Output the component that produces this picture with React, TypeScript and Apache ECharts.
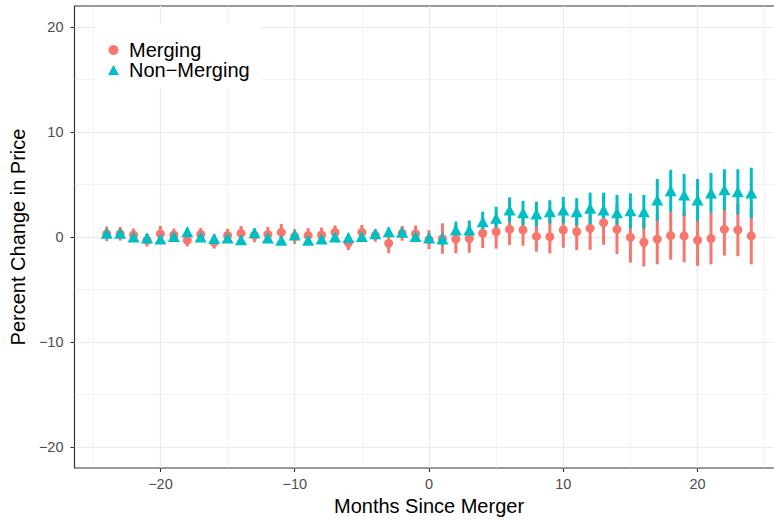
import React, { useEffect, useRef } from "react";
import * as echarts from "echarts";

const months = [-24,-23,-22,-21,-20,-19,-18,-17,-16,-15,-14,-13,-12,-11,-10,-9,-8,-7,-6,-5,-4,-3,-2,-1,0,1,2,3,4,5,6,7,8,9,10,11,12,13,14,15,16,17,18,19,20,21,22,23,24];

const mergingMean = [0.3,0.3,0.2,-0.3,0.3,0.2,-0.3,0.25,-0.5,0.15,0.35,0.15,0.25,0.45,0.05,0.15,0.2,0.45,-0.55,0.45,0.15,-0.6,0.35,0.3,-0.25,-0.15,-0.2,-0.15,0.35,0.5,0.73,0.67,0.05,0.03,0.67,0.5,0.83,1.36,0.73,-0.03,-0.5,-0.2,0.13,0.1,-0.3,-0.15,0.73,0.67,0.1];
const mergingErr = [0.7,0.65,0.6,0.6,0.75,0.6,0.6,0.6,0.6,0.65,0.7,0.65,0.7,0.8,0.7,0.7,0.7,0.65,0.7,0.7,0.6,0.95,0.7,0.8,0.9,1.45,1.35,1.35,1.4,1.6,1.5,1.5,1.45,1.6,1.7,1.75,2.05,2.1,2.35,2.4,2.3,2.4,2.3,2.5,2.45,2.45,2.5,2.5,2.7];

const nonMergingMean = [0.35,0.35,0.0,-0.1,-0.2,0.05,0.5,0.0,-0.15,-0.1,-0.25,0.4,-0.1,-0.3,0.2,-0.3,-0.2,0.0,-0.05,0.05,0.3,0.5,0.45,0.05,-0.1,-0.2,0.67,0.67,1.46,1.78,2.57,2.3,2.2,2.4,2.57,2.4,2.73,2.57,2.3,2.5,2.4,3.52,4.4,4.0,3.52,4.2,4.5,4.3,4.2];
const nonMergingErr = [0.4,0.4,0.35,0.4,0.4,0.35,0.4,0.35,0.4,0.35,0.4,0.4,0.35,0.4,0.35,0.4,0.35,0.4,0.35,0.4,0.35,0.4,0.4,0.45,0.5,0.6,0.8,0.9,0.95,1.1,1.2,1.15,1.17,1.1,1.25,1.3,1.5,1.65,1.7,1.66,1.6,2.0,2.0,2.0,2.0,1.9,1.95,2.15,2.4];

const tickValues = [-20, -10, 0, 10, 20];
const majorGrid = [-20, -10, 0, 10, 20];
const xMinorGrid = [-25, -15, -5, 5, 15, 25];
const yMinorGrid = [-15, -5, 5, 15];

const RED = "#F8766D";
const TEAL = "#00BFC4";
const FONT = "'Liberation Sans', Arial, Helvetica, sans-serif";
const NAME_M = "Merging";
const NAME_N = "Non\u2212Merging";

const fmt = (v: number) => String(v).replace("-", "\u2212");

function errSeries(name: string, means: number[], errs: number[], color: string) {
  return {
    type: "custom",
    name: name + "_err",
    z: 2,
    silent: true,
    data: months.map((m, i) => [m, means[i] - errs[i], means[i] + errs[i]]),
    encode: { x: 0, y: [1, 2] },
    renderItem: (_p: any, api: any) => {
      const a = api.coord([api.value(0), api.value(1)]);
      const b = api.coord([api.value(0), api.value(2)]);
      return {
        type: "line",
        shape: { x1: a[0], y1: a[1], x2: b[0], y2: b[1] },
        style: { stroke: color, lineWidth: 3 },
      };
    },
  };
}

export default function App() {
  const ref = useRef<HTMLDivElement>(null);
  useEffect(() => {
    if (!ref.current) return;
    const chart = echarts.init(ref.current, undefined, { renderer: "svg" });
    const gridLine = (axis: "xAxis" | "yAxis", v: number, w: number) => ({
      [axis]: v,
      lineStyle: { color: "#EBEBEB", width: w, type: "solid", opacity: 1 },
    });
    chart.setOption({
      animation: false,
      backgroundColor: "#fff",
      textStyle: { fontFamily: FONT },
      grid: {
        left: 74.5,
        right: 0.5,
        top: 6,
        bottom: 53,
        show: true,
        borderColor: "#333333",
        borderWidth: 1.2,
        backgroundColor: "transparent",
      },
      xAxis: {
        type: "value",
        min: -26.4,
        max: 26.4,
        axisLine: { show: false, onZero: false },
        splitLine: { show: false },
        axisTick: { show: true, length: 4, customValues: tickValues, lineStyle: { color: "#333333", width: 1.1 } },
        axisLabel: { customValues: tickValues, formatter: fmt, color: "#4D4D4D", fontSize: 14.5, margin: 8, fontFamily: FONT },
        name: "Months Since Merger",
        nameLocation: "middle",
        nameGap: 27,
        nameTextStyle: { color: "#000", fontSize: 20, fontFamily: FONT },
      },
      yAxis: {
        type: "value",
        min: -22,
        max: 22,
        axisLine: { show: false, onZero: false },
        splitLine: { show: false },
        axisTick: { show: true, length: 4, customValues: tickValues, lineStyle: { color: "#333333", width: 1.1 } },
        axisLabel: { customValues: tickValues, formatter: fmt, color: "#4D4D4D", fontSize: 14.5, margin: 11, fontFamily: FONT },
        name: "Percent Change in Price",
        nameLocation: "middle",
        nameGap: 44,
        nameTextStyle: { color: "#000", fontSize: 20, fontFamily: FONT },
      },
      legend: {
        data: [
          { name: NAME_M, icon: "circle" },
          { name: NAME_N, icon: "triangle" },
        ],
        orient: "vertical",
        left: 96,
        top: 24,
        padding: [16, 11, 8, 12],
        itemGap: 0,
        itemWidth: 11,
        itemHeight: 10,
        backgroundColor: "#ffffff",
        textStyle: { fontSize: 20, color: "#000", lineHeight: 19, fontFamily: FONT, padding: [0, 0, 0, 5] },
      },
      series: [
        {
          type: "custom",
          name: "grid",
          silent: true,
          z: 0,
          data: [],
          renderItem: () => null,
          markLine: {
            silent: true,
            symbol: "none",
            z: 0,
            label: { show: false },
            animation: false,
            emphasis: { disabled: true },
            data: [
              ...xMinorGrid.map((v) => gridLine("xAxis", v, 0.6)),
              ...yMinorGrid.map((v) => gridLine("yAxis", v, 0.6)),
              ...majorGrid.map((v) => gridLine("xAxis", v, 1.2)),
              ...majorGrid.map((v) => gridLine("yAxis", v, 1.2)),
            ],
          },
        },
        errSeries(NAME_M, mergingMean, mergingErr, RED),
        errSeries(NAME_N, nonMergingMean, nonMergingErr, TEAL),
        {
          type: "scatter",
          name: NAME_M,
          z: 3,
          symbol: "circle",
          symbolSize: 9,
          itemStyle: { color: RED, opacity: 1 },
          data: months.map((m, i) => [m, mergingMean[i]]),
        },
        {
          type: "scatter",
          name: NAME_N,
          z: 4,
          symbol: "triangle",
          symbolSize: [12, 11],
          itemStyle: { color: TEAL, opacity: 1 },
          data: months.map((m, i) => [m, nonMergingMean[i]]),
        },
      ],
    });
    return () => chart.dispose();
  }, []);
  return (
    <div style={{ position: "fixed", left: 0, top: 0, width: 774, height: 521, overflow: "hidden", background: "#fff" }}>
      <div ref={ref} style={{ width: 784, height: 521 }} />
    </div>
  );
}
